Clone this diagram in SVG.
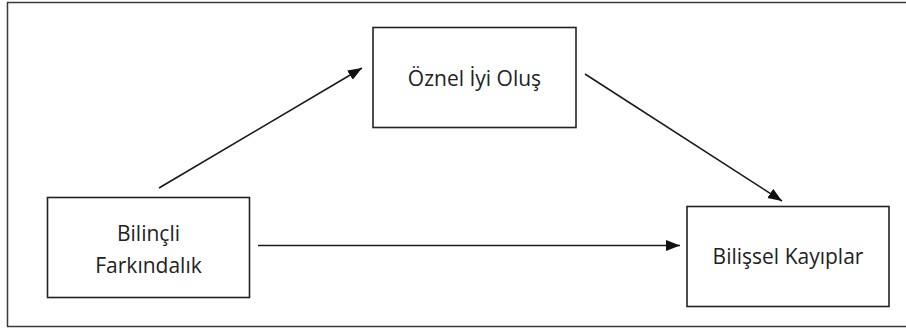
<svg xmlns="http://www.w3.org/2000/svg" width="906" height="330" viewBox="0 0 906 330">
  <style>
    .frame { fill: #ffffff; stroke: #3a3a3a; stroke-width: 1.5; }
    .box { fill: #ffffff; stroke: #222222; stroke-width: 1.6; }
    .label { font-family: "Open Sans", "Liberation Sans", sans-serif; font-size: 21px; fill: #222222; text-anchor: middle; }
    .edge { fill: none; stroke: #1a1a1a; stroke-width: 1.6; marker-end: url(#arrow); }
  </style>
  <defs>
    <marker id="arrow" markerUnits="userSpaceOnUse" markerWidth="15" markerHeight="12" refX="14" refY="5.5" orient="auto">
      <path d="M0,0 L14,5.5 L0,11 z" fill="#111111"/>
    </marker>
  </defs>

  <rect width="906" height="330" fill="#ffffff"/>
  <!-- outer frame, right edge runs past the canvas -->
  <rect class="frame" x="7.5" y="2.5" width="910" height="324"/>

  <g id="connectors">
    <line class="edge" x1="159" y1="188" x2="362" y2="68"/>
    <line class="edge" x1="585" y1="74" x2="782" y2="201"/>
    <line class="edge" x1="258" y1="245.5" x2="680" y2="245.5"/>
  </g>

  <g id="oznel-iyi-olus">
    <rect class="box" x="373" y="27.5" width="203" height="100"/>
    <text class="label" x="474.5" y="86">Öznel İyi Oluş</text>
  </g>

  <g id="bilincli-farkindalik">
    <rect class="box" x="47.5" y="197.5" width="202" height="100"/>
    <text class="label" x="148.5" y="240.5">Bilinçli</text>
    <text class="label" x="148.5" y="272.5">Farkındalık</text>
  </g>

  <g id="bilissel-kayiplar">
    <rect class="box" x="687" y="206.5" width="202" height="100"/>
    <text class="label" x="788" y="264">Bilişsel Kayıplar</text>
  </g>
</svg>
